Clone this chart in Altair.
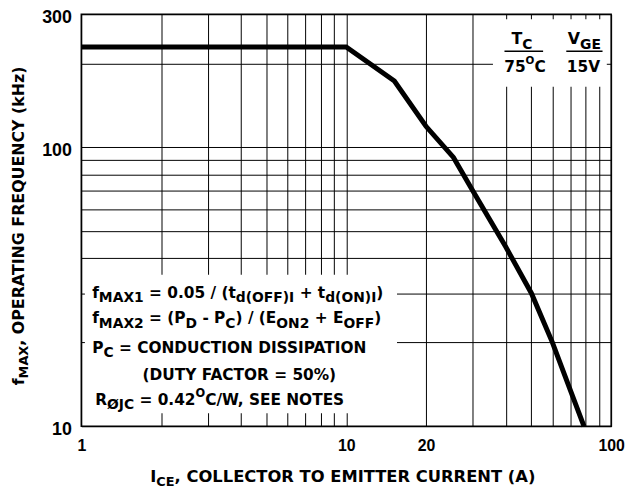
import altair as alt
import pandas as pd

# ---------------- data ----------------
I_CE = [1, 10, 15.2, 20, 25.4, 30, 40, 50, 60, 69.5, 79]
F_MAX = [229, 229, 173, 119, 92, 70, 44, 30, 20, 13.8, 10]

X_GRID = [1, 2, 3, 4, 5, 6, 7, 8, 9, 10, 20, 30, 40, 50, 60, 70, 80, 90, 100]
X_LABELS = [1, 10, 20, 100]
Y_GRID = [10, 20, 30, 40, 50, 60, 70, 80, 90, 100, 200, 300]
Y_LABELS = [10, 100, 300]

# white boxes behind the annotation blocks (data units)
MASK_X1 = [1.032, 35.8]
MASK_X2 = [15.55, 96.3]
MASK_Y1 = [11.13, 165]
MASK_Y2 = [34.94, 288]

curve = pd.DataFrame({"I": I_CE, "F": F_MAX})
masks = pd.DataFrame({"x1": MASK_X1, "x2": MASK_X2, "y1": MASK_Y1, "y2": MASK_Y2})
dummy = pd.DataFrame({"d": [0]})

x_scale = alt.Scale(type="log", domain=[1, 100], nice=False)
y_scale = alt.Scale(type="log", domain=[10, 300], nice=False)


def label_expr(vals):
    arr = ",".join(str(v) for v in vals)
    return f"indexof([{arr}], datum.value) >= 0 ? toString(datum.value) : ''"


common_axis = dict(grid=True, gridColor="black", gridWidth=1, gridOpacity=1,
                   ticks=False, domain=False, labelFont="Liberation Sans",
                   labelFontWeight="bold", labelColor="black", labelFlush=False,
                   labelOverlap=False, title=None)
x_axis = alt.Axis(values=X_GRID, labelExpr=label_expr(X_LABELS), labelFontSize=16,
                  labelPadding=11, labelBaseline="top", **common_axis)
y_axis = alt.Axis(values=Y_GRID, labelExpr=label_expr(Y_LABELS), labelFontSize=18,
                  labelPadding=10, labelBaseline="middle", labelOffset=3, **common_axis)

mask_layer = alt.Chart(masks).mark_rect(color="white").encode(
    x=alt.X("x1:Q", scale=x_scale, axis=x_axis), x2="x2:Q",
    y=alt.Y("y1:Q", scale=y_scale, axis=y_axis), y2="y2:Q")

line_layer = alt.Chart(curve).mark_line(color="black", strokeWidth=5, strokeJoin="miter").encode(
    x=alt.X("I:Q", scale=x_scale, axis=x_axis),
    y=alt.Y("F:Q", scale=y_scale, axis=y_axis))

# ---------------- text helpers ----------------
W = {" ": 348, "(": 457, ")": 457, ",": 380, ".": 380, "/": 365, "-": 415, "=": 838,
     "+": 838, "%": 1002, "A": 774, "B": 762, "C": 734, "D": 830, "E": 683, "F": 683,
     "G": 821, "H": 837, "I": 372, "J": 372, "K": 775, "L": 637, "M": 995, "N": 837,
     "O": 850, "P": 733, "Q": 850, "R": 770, "S": 720, "T": 682, "U": 812, "V": 774,
     "W": 1103, "X": 771, "Y": 724, "Z": 725, "f": 435, "t": 478, "d": 716, "k": 665,
     "z": 568, "\u00d8": 850}
for _c in "0123456789":
    W[_c] = 696


def tw(s, size):
    return sum(W.get(c, 700) for c in s) * size / 1000.0


OX, OY = 82, 12  # page position of plot origin
FONT = "DejaVu Sans"


def txt(s, px, py, size, angle=0):
    kw = dict(text=s, font=FONT, fontWeight="bold", fontSize=size, align="left",
              baseline="alphabetic", color="black")
    if angle:
        kw["angle"] = angle
    return alt.Chart(dummy).mark_text(**kw).encode(x=alt.value(px - OX), y=alt.value(py - OY))


def rich(parts, x, y, main, sub, sup, sub_dy=4.5, sup_dy=-8.5, anchor="left", angle=0):
    sizes = {"n": main, "b": sub, "p": sup}
    offs = {"n": 0, "b": sub_dy, "p": sup_dy}
    total = sum(tw(t, sizes[k]) for t, k in parts)
    out = []
    if angle == 0:
        pos = x - total / 2 if anchor == "center" else x
        for t, k in parts:
            s = sizes[k]
            st = t.strip(" ")
            lead = len(t) - len(t.lstrip(" "))
            if st:
                out.append(txt(st, pos + lead * W[" "] * s / 1000, y + offs[k], s))
            pos += tw(t, s)
    else:  # rotated 270: reads bottom to top, baseline at x
        pos = y + total / 2 if anchor == "center" else y
        for t, k in parts:
            s = sizes[k]
            st = t.strip(" ")
            lead = len(t) - len(t.lstrip(" "))
            if st:
                out.append(txt(st, x + offs[k], pos - lead * W[" "] * s / 1000, s, angle=270))
            pos -= tw(t, s)
    return out


texts = []
# axis titles
texts += rich([("I", "n"), ("CE", "b"), (", COLLECTOR TO EMITTER CURRENT (A)", "n")],
              346, 484, 16.5, 13, 10, sub_dy=4, anchor="center")
texts += rich([("f", "n"), ("MAX", "b"), (", OPERATING FREQUENCY (kHz)", "n")],
              24, 225, 16, 13, 10, sub_dy=4, anchor="center", angle=270)

# formula block
M, S, P = 15.5, 14, 11.5
texts += rich([("f", "n"), ("MAX1", "b"), (" = 0.05 / (t", "n"), ("d(OFF)I", "b"),
               (" + t", "n"), ("d(ON)I", "b"), (")", "n")], 93, 298, M, S, P)
texts += rich([("f", "n"), ("MAX2", "b"), (" = (P", "n"), ("D", "b"), (" - P", "n"),
               ("C", "b"), (") / (E", "n"), ("ON2", "b"), (" + E", "n"), ("OFF", "b"),
               (")", "n")], 93, 324, M, S, P)
texts += rich([("P", "n"), ("C", "b"), (" = CONDUCTION DISSIPATION", "n")], 93, 354, M, S, P)
texts += rich([("(DUTY FACTOR = 50%)", "n")], 242.5, 381, M, S, P, anchor="center")
texts += rich([("R", "n"), ("\u00d8JC", "b"), (" = 0.42", "n"), ("O", "p"),
               ("C/W, SEE NOTES", "n")], 96, 407, M, S, P, sub_dy=3.5)

# condition box
texts += rich([("T", "n"), ("C", "b")], 527, 42.3, 16, 14, 10.5, sub_dy=4.7, anchor="center")
texts += rich([("75", "n"), ("O", "p"), ("C", "n")], 530, 70, 15.5, 14, 10.5,
              sup_dy=-8, anchor="center")
texts += rich([("V", "n"), ("GE", "b")], 590, 42.3, 16, 14, 10.5, sub_dy=4.7, anchor="center")
texts += rich([("15V", "n")], 589, 70, 15.5, 14, 10.5, anchor="center")

underlines = [
    alt.Chart(dummy).mark_rule(color="black", strokeWidth=1.5).encode(
        x=alt.value(509.3 - OX), x2=alt.value(548.3 - OX), y=alt.value(49.3 - OY)),
    alt.Chart(dummy).mark_rule(color="black", strokeWidth=1.5).encode(
        x=alt.value(571.7 - OX), x2=alt.value(608.3 - OX), y=alt.value(49.3 - OY)),
]

chart = alt.layer(mask_layer, line_layer, *texts, *underlines).properties(
    width=535, height=416,
    autosize=alt.AutoSizeParams(type="none"),
    padding={"left": 74, "top": 4, "right": 15, "bottom": 62},
    background="white",
).configure_view(stroke="black", strokeWidth=1.5)

chart.save("out.html", embed_options={"renderer": "svg", "actions": False})
